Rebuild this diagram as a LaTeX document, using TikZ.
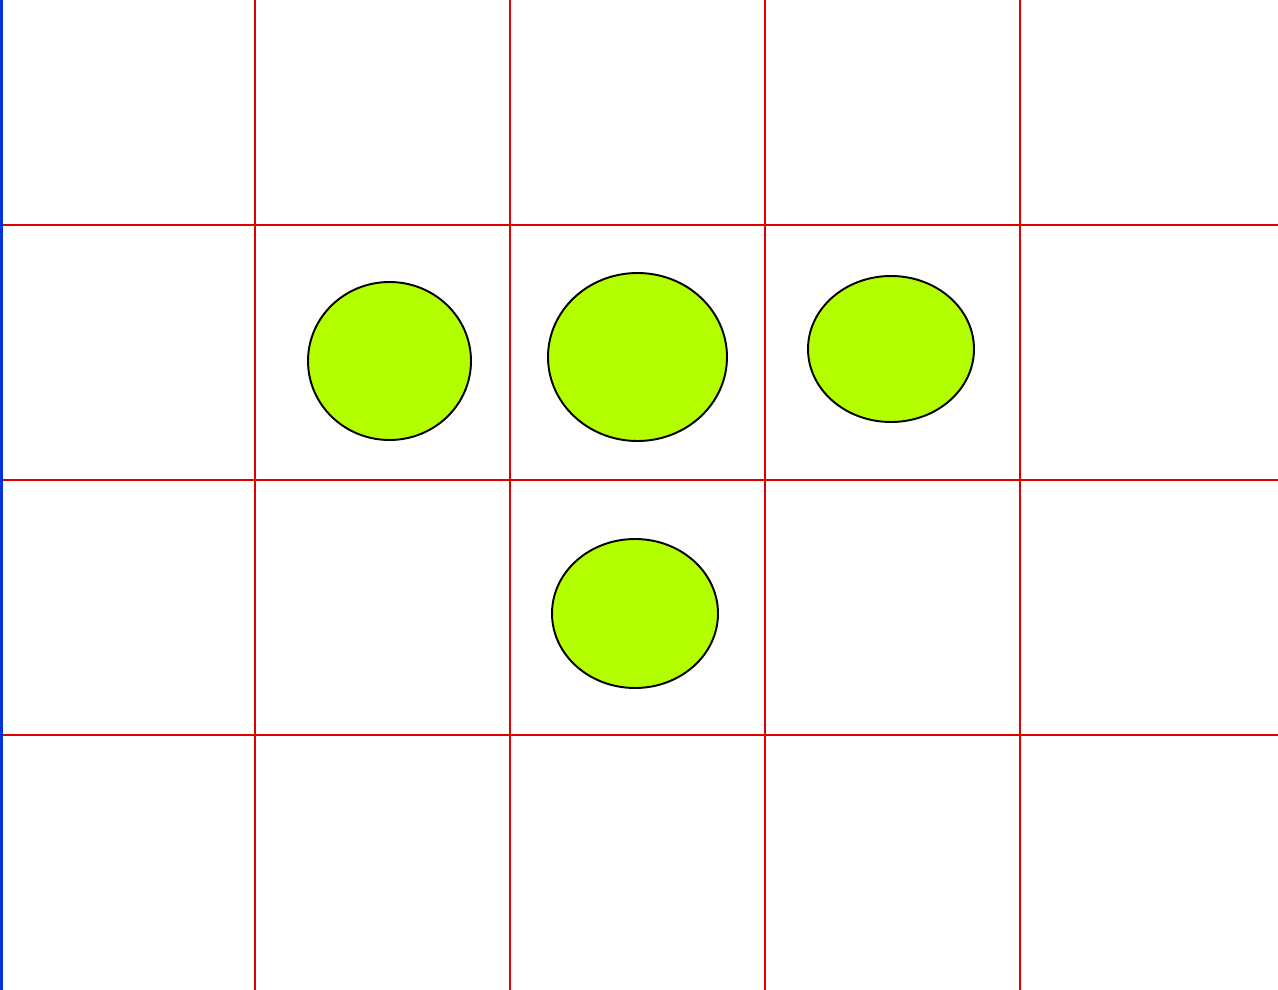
\documentclass[tikz,border=0pt]{standalone}
\usepackage{xcolor}
\definecolor{ballgreen}{HTML}{B3FF00}
\definecolor{edgeblue}{HTML}{0033DD}
\tikzset{
  gridline/.style={draw=red!90!black,line width=1.3pt},
  ball/.style={draw=black,fill=ballgreen,line width=1.1pt}
}
\begin{document}
\begin{tikzpicture}[x=0.02cm,y=-0.02cm]
\useasboundingbox (0,0) rectangle (1278,990);
\fill[white] (0,0) rectangle (1278,990);
\foreach \gx in {255,510,765,1020} \draw[gridline] (\gx,0)--(\gx,990);
\foreach \gy in {225,480,735} \draw[gridline] (0,\gy)--(1278,\gy);
\draw[edgeblue,line width=2.2pt] (1.5,0)--(1.5,990);
\draw[ball] (389.5,361) ellipse [x radius=81.5,y radius=79];
\draw[ball] (637.5,357) ellipse [x radius=89.5,y radius=84];
\draw[ball] (891,349) ellipse [x radius=83,y radius=73];
\draw[ball] (635,613.5) ellipse [x radius=83,y radius=74.5];
\end{tikzpicture}
\end{document}
